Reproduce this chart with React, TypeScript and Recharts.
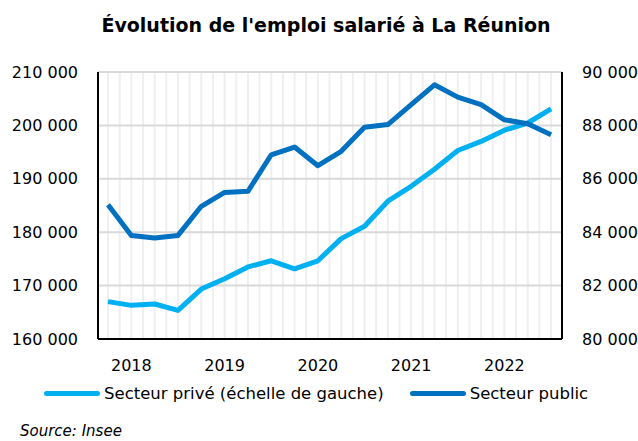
import { CartesianGrid, Line, LineChart, XAxis, YAxis } from "recharts"

const quarters = [
  "2017T4", "2018T1", "2018T2", "2018T3", "2018T4",
  "2019T1", "2019T2", "2019T3", "2019T4",
  "2020T1", "2020T2", "2020T3", "2020T4",
  "2021T1", "2021T2", "2021T3", "2021T4",
  "2022T1", "2022T2", "2022T3",
]

// secteur privé, échelle de gauche
const prive = [
  167000, 166300, 166550, 165350, 169350, 171300, 173500, 174650, 173150, 174650,
  178800, 181100, 185800, 188600, 191800, 195300, 197000, 199100, 200450, 203100,
]

// secteur public, échelle de droite
const publicSector = [
  85030, 83880, 83780, 83880, 84970, 85490, 85530, 86900, 87190, 86490,
  87030, 87930, 88030, 88780, 89520, 89060, 88780, 88210, 88060, 87650,
]

const leftTicks = [160000, 170000, 180000, 190000, 200000, 210000]
const rightTicks = [80000, 82000, 84000, 86000, 88000, 90000]

const data = quarters.map((q, i) => ({ i, q, prive: prive[i], public: publicSector[i] }))

// one grid line on each quarter and one in between
const gridTicks = quarters.flatMap((_, i) => (i < quarters.length - 1 ? [i, i + 0.5] : [i]))

const fmt = (v: number) => String(v).replace(/\B(?=(\d{3})+(?!\d))/g, " ")

const font = "'DejaVu Sans', sans-serif"
const LIGHT = "#00b0f0"
const DARK = "#0070c0"

function YearTick(props: any) {
  const { x, y, payload } = props
  const q = quarters[payload.value]
  if (!q || !q.endsWith("T1") || payload.value % 1 !== 0) return null
  return (
    <text x={x} y={y + 24} textAnchor="middle" fontSize={16} fill="#000" fontFamily={font}>
      {q.slice(0, 4)}
    </text>
  )
}

function LegendItem({ color, label }: { color: string; label: string }) {
  return (
    <div style={{ display: "flex", alignItems: "center" }}>
      <div style={{ width: 56, height: 5, borderRadius: 3, background: color, marginRight: 4 }} />
      <span>{label}</span>
    </div>
  )
}

export default function App() {
  return (
    <div
      style={{
        position: "absolute",
        left: 0,
        top: 0,
        width: 638,
        height: 441,
        background: "#fff",
        fontFamily: font,
        color: "#000",
      }}
    >
      <div
        style={{
          position: "absolute",
          top: 14,
          left: 0,
          width: 652,
          textAlign: "center",
          fontWeight: "bold",
          fontSize: 19,
        }}
      >
        Évolution de l'emploi salarié à La Réunion
      </div>
      <LineChart width={638} height={441} data={data} margin={{ top: 72, right: 0, bottom: 0, left: 0 }}>
        <CartesianGrid yAxisId="left" horizontal={false} stroke="#efefef" strokeWidth={2} />
        <CartesianGrid yAxisId="left" vertical={false} stroke="#d9d9d9" strokeWidth={2} />
        <XAxis
          dataKey="i"
          type="number"
          domain={[-0.43, 19.47]}
          ticks={gridTicks}
          interval={0}
          tickLine={false}
          axisLine={{ stroke: "#000", strokeWidth: 2 }}
          tick={<YearTick />}
          height={102}
        />
        <YAxis
          yAxisId="left"
          domain={[160000, 210000]}
          ticks={leftTicks}
          tickFormatter={fmt}
          width={98}
          tickLine={false}
          axisLine={{ stroke: "#000", strokeWidth: 2 }}
          tick={{ fontSize: 16, fill: "#000", fontFamily: font }}
          tickMargin={14}
        />
        <YAxis
          yAxisId="right"
          orientation="right"
          domain={[80000, 90000]}
          ticks={rightTicks}
          tickFormatter={fmt}
          width={76}
          tickLine={false}
          axisLine={{ stroke: "#000", strokeWidth: 2 }}
          tick={{ fontSize: 16, fill: "#000", fontFamily: font }}
          tickMargin={14}
        />
        <Line
          yAxisId="left"
          dataKey="prive"
          stroke={LIGHT}
          strokeWidth={5}
          dot={false}
          strokeLinejoin="round"
          isAnimationActive={false}
        />
        <Line
          yAxisId="right"
          dataKey="public"
          stroke={DARK}
          strokeWidth={5}
          dot={false}
          strokeLinejoin="round"
          isAnimationActive={false}
        />
      </LineChart>
      <div
        style={{
          position: "absolute",
          top: 384,
          left: 44,
          display: "flex",
          gap: 26,
          fontSize: 16.5,
        }}
      >
        <LegendItem color={LIGHT} label="Secteur privé (échelle de gauche)" />
        <LegendItem color={DARK} label="Secteur public" />
      </div>
      <div style={{ position: "absolute", top: 422, left: 20, fontSize: 15, fontStyle: "italic" }}>
        Source: Insee
      </div>
    </div>
  )
}
